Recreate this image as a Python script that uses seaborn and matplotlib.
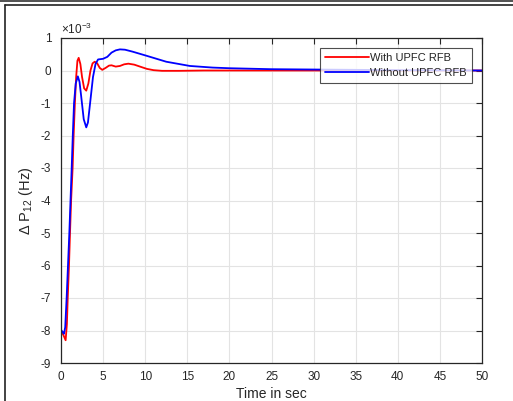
import numpy as np
import pandas as pd
import matplotlib
matplotlib.use("Agg")
import matplotlib.pyplot as plt
import seaborn as sns
from matplotlib.lines import Line2D

# ---- data (values in units of 1e-3) ----
t_with = [0, 0.3, 0.55, 0.7, 0.8, 0.95, 1.07, 1.2, 1.38, 1.5, 1.65, 1.8, 1.95, 2.1,
          2.3, 2.5, 2.75, 3.0, 3.25, 3.5, 3.75, 4.0, 4.3, 4.6, 4.9, 5.3, 5.7, 6.0,
          6.5, 7.0, 7.5, 8.0, 8.7, 9.5, 10.2, 11, 12, 14, 17, 20, 30, 40, 50]
v_with = [-8.0, -8.15, -8.3, -7.8, -7.0, -6.0, -5.0, -4.0, -3.0, -2.0, -1.0, -0.2, 0.3, 0.39,
          0.2, -0.2, -0.55, -0.62, -0.4, 0.0, 0.22, 0.27, 0.22, 0.08, 0.02, 0.08, 0.15, 0.16,
          0.12, 0.14, 0.19, 0.21, 0.18, 0.11, 0.05, 0.01, -0.01, -0.01, 0.0, 0.0, 0.0, 0.0, 0.0]

t_without = [0, 0.2, 0.35, 0.5, 0.67, 0.83, 0.99, 1.13, 1.27, 1.4, 1.55, 1.75, 2.0, 2.2,
             2.4, 2.7, 3.0, 3.2, 3.5, 3.8, 4.1, 4.4, 5.0, 5.5, 6.0, 6.5, 7.0, 7.6, 8.5,
             10.2, 12.5, 15.3, 18, 20, 25, 30, 40, 50]
v_without = [-7.98, -8.05, -8.1, -7.9, -7.0, -6.0, -5.0, -4.0, -3.0, -2.0, -1.0, -0.4, -0.18, -0.35,
             -0.8, -1.5, -1.75, -1.6, -0.9, -0.2, 0.2, 0.34, 0.36, 0.42, 0.55, 0.62, 0.65, 0.64, 0.58,
             0.45, 0.27, 0.14, 0.09, 0.07, 0.04, 0.03, 0.01, 0.0]

series_names = ["With UPFC RFB", "Without UPFC RFB"]
x_ticks = [0, 5, 10, 15, 20, 25, 30, 35, 40, 45, 50]
y_ticks = [-9, -8, -7, -6, -5, -4, -3, -2, -1, 0, 1]

df = pd.concat([
    pd.DataFrame({"t": t_with, "v": v_with, "s": series_names[0]}),
    pd.DataFrame({"t": t_without, "v": v_without, "s": series_names[1]}),
])

sns.set_style("white")
plt.rcParams["font.family"] = ["Liberation Sans", "DejaVu Sans"]
plt.rcParams["mathtext.fontset"] = "custom"
plt.rcParams["mathtext.rm"] = "Liberation Sans"
plt.rcParams["mathtext.it"] = "Liberation Sans"

W, H = 513, 401
fig = plt.figure(figsize=(W / 100, H / 100), dpi=100)
fig.patch.set_facecolor("white")
ax = fig.add_axes([61 / W, (H - 363) / H, 421 / W, 325 / H])

grey = "#262626"
sns.lineplot(data=df, x="t", y="v", hue="s", palette=["#ff0000", "#0000ff"],
             linewidth=1.3, ax=ax, sort=False, estimator=None)

ax.set_xlim(0, 50)
ax.set_ylim(-9, 1)
ax.set_xticks(x_ticks)
ax.set_yticks(y_ticks)
ax.set_xticklabels([str(v) for v in x_ticks])
ax.set_yticklabels([str(v) for v in y_ticks])
ax.grid(True, color="#e3e3e3", linewidth=0.8)
ax.set_axisbelow(True)
ax.tick_params(direction="in", length=4, width=0.8, top=True, right=True,
               labelsize=8.5, colors=grey)
ax.tick_params(axis="x", pad=6)
ax.tick_params(axis="y", pad=7)
for sp in ax.spines.values():
    sp.set_color(grey)
    sp.set_linewidth(0.9)

ax.set_xlabel("Time in sec", fontsize=10, color=grey, labelpad=3)
ax.set_ylabel(r"$\Delta$ P$_{12}$ (Hz)", fontsize=10.5, color=grey, labelpad=4)
ax.text(0.0, 1.004, r"$\times10^{-3}$", transform=ax.transAxes, fontsize=8.5,
        color=grey, ha="left", va="bottom")

leg = ax.legend(loc="upper right", bbox_to_anchor=(0.976, 0.969), borderaxespad=0,
                fontsize=8, frameon=True, fancybox=False, handlelength=3.9,
                handletextpad=0.15, borderpad=0.45, labelspacing=0.4)
leg.get_frame().set_edgecolor("#222222")
leg.get_frame().set_linewidth(0.8)
leg.set_title(None)
for txt in leg.get_texts():
    txt.set_color("#222222")

# outer page frame
fig.add_artist(Line2D([0, 1], [1 - 0.5 / H, 1 - 0.5 / H], transform=fig.transFigure,
                      color="#333333", linewidth=1.2))
fig.add_artist(Line2D([4.5 / W, 1], [1 - 4.5 / H, 1 - 4.5 / H], transform=fig.transFigure,
                      color="#222222", linewidth=1.2))
fig.add_artist(Line2D([4.5 / W, 4.5 / W], [0, 1 - 4.5 / H], transform=fig.transFigure,
                      color="#222222", linewidth=1.2))

fig.savefig("out.png", dpi=100)
